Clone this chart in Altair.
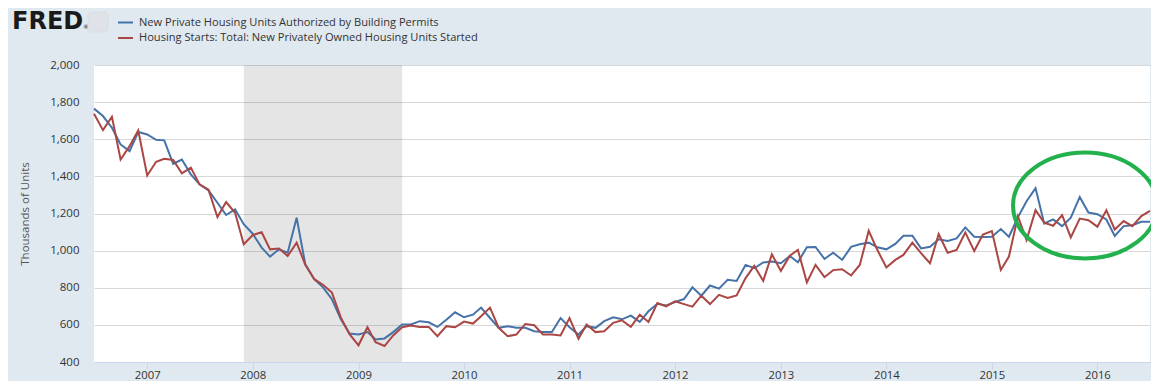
import altair as alt
import pandas as pd

# ---------------- data ----------------
months = pd.date_range("2006-07-01", "2016-07-01", freq="MS").strftime("%Y-%m-%d").tolist()

permits = [
    1765, 1725, 1662, 1572, 1536, 1639,
    1626, 1597, 1594, 1468, 1491, 1411, 1357, 1325, 1258, 1192, 1222, 1142,
    1091, 1016, 968, 1007, 989, 1177, 926, 846, 801, 738, 630, 553,
    548, 561, 521, 527, 561, 602, 602, 620, 614, 589, 628, 668,
    641, 655, 693, 637, 584, 593, 584, 584, 566, 562, 562, 637,
    587, 548, 593, 584, 620, 641, 630, 650, 616, 673, 714, 704,
    723, 739, 802, 757, 812, 795, 843, 837, 923, 905, 936, 941,
    932, 971, 937, 1018, 1020, 955, 989, 950, 1020, 1034, 1043, 1018,
    1007, 1036, 1080, 1080, 1012, 1021, 1061, 1052, 1066, 1125, 1075, 1073,
    1075, 1116, 1075, 1179, 1266, 1337, 1146, 1168, 1132, 1177, 1289, 1205,
    1196, 1168, 1079, 1132, 1137, 1155, 1155,
]

starts = [
    1737, 1649, 1721, 1491, 1563, 1648,
    1405, 1479, 1495, 1488, 1416, 1447, 1357, 1328, 1181, 1262, 1204, 1034,
    1084, 1099, 1007, 1011, 971, 1043, 923, 846, 815, 774, 639, 550,
    490, 587, 507, 486, 543, 587, 596, 589, 589, 539, 593, 587,
    618, 607, 646, 693, 584, 539, 548, 605, 598, 548, 548, 543,
    637, 525, 602, 561, 566, 611, 625, 589, 655, 616, 718, 700,
    727, 712, 698, 757, 712, 762, 745, 759, 852, 918, 837, 980,
    891, 973, 1004, 829, 923, 857, 895, 900, 866, 923, 1107, 1003,
    909, 950, 977, 1043, 986, 932, 1089, 989, 1004, 1098, 998, 1087,
    1105, 896, 968, 1185, 1057, 1218, 1150, 1134, 1191, 1071, 1173, 1164,
    1129, 1218, 1114, 1159, 1132, 1186, 1214,
]

series_names = [
    "New Private Housing Units Authorized by Building Permits",
    "Housing Starts: Total: New Privately Owned Housing Units Started",
]
series_colors = ["#4572a7", "#aa4643"]

recession_start = ["2007-12-01"]
recession_end = ["2009-06-01"]

tick_years = list(range(2007, 2017))
y_ticks = list(range(400, 2001, 200))

# ---------------- tables ----------------
n = len(months)
lines_df = pd.DataFrame({
    "date": months + months,
    "value": permits + starts,
    "series": [series_names[0]] * n + [series_names[1]] * n,
})
rec_df = pd.DataFrame({"start": recession_start, "end": recession_end})
one = pd.DataFrame({"k": [0]})

FONT = "Open Sans"
W, H = 1056, 297

x_scale = alt.Scale(
    type="utc",
    domain=[alt.DateTime(year=2006, month=7, date=1, utc=True),
            alt.DateTime(year=2016, month=7, date=1, utc=True)],
)
y_scale = alt.Scale(domain=[400, 2000], nice=False, zero=False)

x_axis = alt.Axis(
    values=[alt.DateTime(year=y, month=1, date=1, utc=True) for y in tick_years],
    format="%Y", title=None, grid=False,
    domainColor="#ccd6eb", tickColor="#ccd6eb", tickSize=7,
    labelFont=FONT, labelFontSize=11.3, labelColor="#333333", labelPadding=0,
)
y_axis = alt.Axis(
    values=y_ticks, format=",d", title="Thousands of Units",
    grid=True, gridColor="#d8d8d8", domain=False, ticks=False,
    labelFont=FONT, labelFontSize=11.5, labelColor="#333333", labelPadding=15,
    titleFont=FONT, titleFontSize=11.5, titleFontWeight="normal", titleColor="#555555",
    titleX=-69, titleY=H / 2, titleAngle=270, titleAlign="center", titleBaseline="middle",
)

recession = alt.Chart(rec_df).mark_rect(color="#000000", opacity=0.1).encode(
    x=alt.X("start:T", scale=x_scale, axis=x_axis),
    x2="end:T",
)

lines = alt.Chart(lines_df).mark_line(strokeWidth=2).encode(
    x=alt.X("date:T", scale=x_scale, axis=x_axis),
    y=alt.Y("value:Q", scale=y_scale, axis=y_axis),
    color=alt.Color(
        "series:N",
        scale=alt.Scale(domain=series_names, range=series_colors),
        legend=alt.Legend(
            orient="none", legendX=23, legendY=-51, title=None,
            symbolType="stroke", symbolSize=225, symbolStrokeWidth=2,
            labelFont=FONT, labelFontSize=11.1, labelColor="#333333",
            labelOffset=5, rowPadding=1.5, padding=0, labelLimit=600,
        ),
    ),
)

# FRED logo (decoration)
logo = alt.Chart(one).mark_text(
    text="FRED", font="DejaVu Sans", fontSize=24, fontWeight="bold",
    color="#1a1a1a", align="left", baseline="alphabetic",
).encode(x=alt.value(-82), y=alt.value(-36.5))
logo_r = alt.Chart(one).mark_text(
    text="®", font="DejaVu Sans", fontSize=6, color="#1a1a1a",
    align="left", baseline="alphabetic",
).encode(x=alt.value(-11), y=alt.value(-36.5))
icon = alt.Chart(one).mark_rect(color="#dfe3e7", cornerRadius=3,
                                stroke="#cfd4d9", strokeWidth=0.5).encode(
    x=alt.value(-6), x2=alt.value(14), y=alt.value(-53), y2=alt.value(-33)
)

# hand-drawn green ellipse annotation
k, ry = 0.5523, 0.736
ellipse_path = (
    f"M -1 0 C -1 {-k*ry:.4f} {-k:.4f} {-ry} 0 {-ry} "
    f"C {k:.4f} {-ry} 1 {-k*ry:.4f} 1 0 "
    f"C 1 {k*ry:.4f} {k:.4f} {ry} 0 {ry} "
    f"C {-k:.4f} {ry} -1 {k*ry:.4f} -1 0 Z"
)
ellipse = alt.Chart(one).mark_point(
    shape=ellipse_path, size=144 * 144, filled=False, strokeWidth=4,
    color="#22b14c", opacity=1,
).encode(x=alt.value(991), y=alt.value(140.5))

chart = alt.layer(recession, lines, logo, logo_r, icon, ellipse).properties(
    width=W, height=H,
    autosize=alt.AutoSizeParams(type="none"),
    padding={"left": 86, "top": 57, "right": 1, "bottom": 19},
).configure(background="#e1e9f0").configure_view(fill="white", strokeWidth=0)

chart.save("out.html", embed_options={"renderer": "svg", "actions": False})
